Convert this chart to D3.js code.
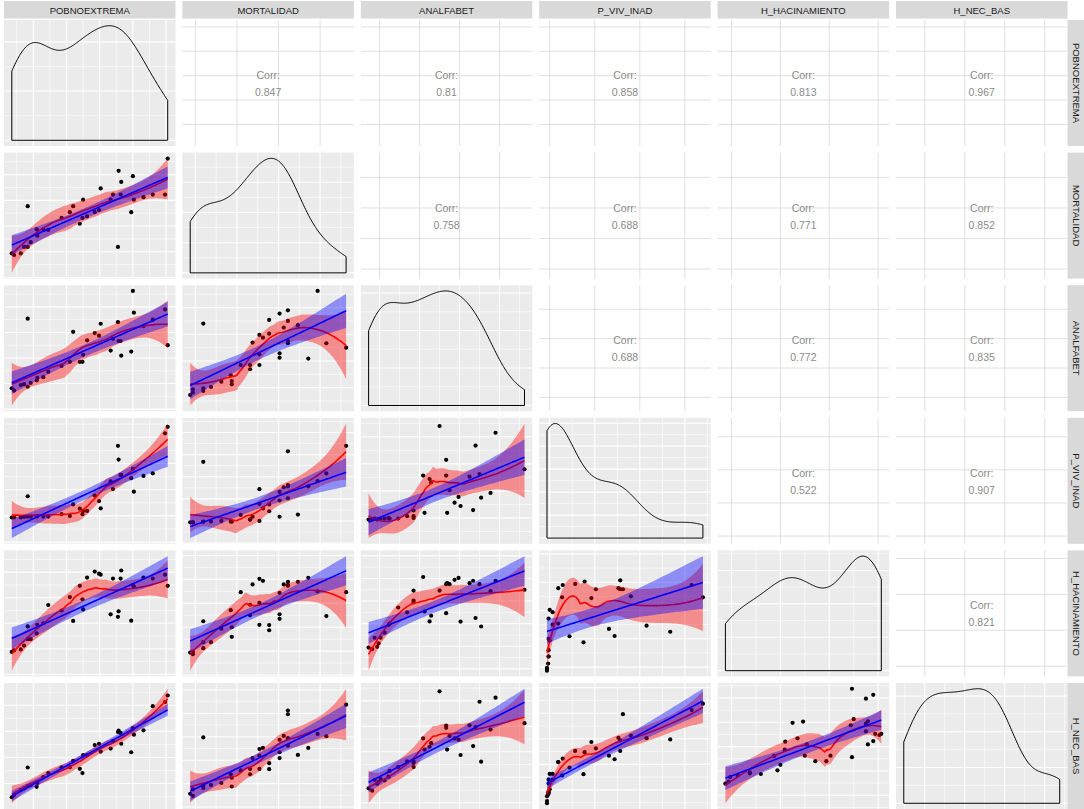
<!DOCTYPE html>
<html lang="en">
<head>
<meta charset="utf-8">
<title>Matriz de dispersión</title>
<script src="https://cdn.jsdelivr.net/npm/d3@7"></script>
<style>
  body { margin: 0; background: #ffffff; }
  svg { display: block; font-family: "Liberation Sans", Arial, sans-serif; }
</style>
</head>
<body>
<div id="chart"></div>
<script>
// variable names (strip labels), same order for rows and columns
var vars = ["POBNOEXTREMA", "MORTALIDAD", "ANALFABET", "P_VIV_INAD", "H_HACINAMIENTO", "H_NEC_BAS"];

var pobnoextrema = [7.0, 8.4, 12.4, 14.4, 16.6, 16.6, 18.4, 22.0, 22.4, 26.0, 29.0, 37.0, 42.0, 44.0, 48.0, 49.6, 50.0,
                    52.4, 57.0, 59.6, 60.6, 66.6, 68.0, 71.0, 71.4, 72.6, 73.0, 79.0, 80.0, 80.6, 86.4, 92.0, 99.4, 101.0];
var mortalidad   = [18.8, 17.5, 18.8, 23.8, 55.5, 23.8, 27.5, 37.5, 32.5, 37.5, 37.0, 46.3, 50.8, 55.5, 41.8, 46.3, 60.5,
                    47.5, 50.8, 52.5, 69.3, 60.5, 64.5, 23.8, 83.0, 64.5, 74.3, 50.8, 78.8, 60.5, 62.5, 64.5, 64.5, 92.5];
var analfabet    = [16.3, 14.5, 18.8, 19.5, 70.8, 17.5, 20.5, 22.5, 24.5, 25.0, 29.3, 33.8, 37.0, 60.5, 37.0, 37.0, 42.5,
                    53.8, 59.5, 57.5, 66.8, 45.8, 55.0, 68.0, 53.3, 53.3, 41.8, 45.0, 92.5, 75.5, 65.0, 70.0, 78.0, 50.0];
var pVivInad     = [18.8, 18.8, 18.8, 19.3, 35.0, 19.5, 19.5, 19.5, 20.0, 19.5, 19.5, 21.3, 20.0, 28.8, 25.5, 21.3, 23.8,
                    23.8, 35.5, 31.3, 25.8, 46.3, 40.5, 73.5, 63.0, 51.3, 51.3, 48.8, 56.0, 38.5, 50.5, 52.5, 83.0, 88.0];
var hHacinamiento = [17.5, 18.8, 19.5, 22.5, 37.5, 27.5, 27.5, 32.0, 38.8, 40.0, 54.3, 50.0, 60.5, 41.8, 69.3, 58.8, 50.8,
                    75.8, 80.5, 78.8, 78.0, 47.0, 75.0, 45.0, 49.3, 75.0, 81.3, 42.0, 70.0, 68.8, 75.8, 75.0, 78.0, 69.3];
var hNecBas      = [9.5, 11.3, 15.0, 16.3, 32.3, 18.0, 18.8, 17.5, 20.5, 25.0, 28.0, 32.5, 32.5, 37.5, 31.3, 28.0, 41.8,
                    41.8, 49.5, 50.5, 44.5, 46.8, 52.5, 59.5, 60.5, 58.8, 50.5, 44.0, 62.5, 57.5, 60.8, 79.3, 82.5, 87.5];

// correlation labels shown in the upper triangle, keyed "row,col"
var corrLabels = {
  "0,1": "0.847", "0,2": "0.81",  "0,3": "0.858", "0,4": "0.813", "0,5": "0.967",
  "1,2": "0.758", "1,3": "0.688", "1,4": "0.771", "1,5": "0.852",
  "2,3": "0.688", "2,4": "0.772", "2,5": "0.835",
  "3,4": "0.522", "3,5": "0.907",
  "4,5": "0.821"
};

var columns = [pobnoextrema, mortalidad, analfabet, pVivInad, hHacinamiento, hNecBas];

var W = 1084, H = 809;
var x0 = 4, y0 = 20, pw = 171.5, ph = 126, stepX = 178.4, stepY = 132.6;

var svg = d3.select("#chart").append("svg")
  .attr("width", W).attr("height", H);
svg.append("rect").attr("width", W).attr("height", H).attr("fill", "#ffffff");
var defs = svg.append("defs");

// ---------- stats helpers ----------
function expand(ext) {
  var d = ext[1] - ext[0];
  return [ext[0] - d * 0.05, ext[1] + d * 0.05];
}

function inv3(m) {
  var a = m[0][0], b = m[0][1], c = m[0][2],
      d = m[1][0], e = m[1][1], f = m[1][2],
      g = m[2][0], h = m[2][1], k = m[2][2];
  var A = e * k - f * h, B = -(d * k - f * g), C = d * h - e * g;
  var det = a * A + b * B + c * C;
  return [[A / det, -(b * k - c * h) / det, (b * f - c * e) / det],
          [B / det, (a * k - c * g) / det, -(a * f - c * d) / det],
          [C / det, -(a * h - b * g) / det, (a * e - b * d) / det]];
}

// local quadratic fit at x, returns equivalent kernel weights
function loessWeights(xs, x, span) {
  var n = xs.length, q = Math.floor(n * span);
  var dist = xs.map(function(v) { return Math.abs(v - x); });
  var h = dist.slice().sort(function(a, b) { return a - b; })[q - 1] * 1.0001;
  var w = dist.map(function(v) { return v < h ? Math.pow(1 - Math.pow(v / h, 3), 3) : 0; });
  var S = [0, 0, 0, 0, 0];
  xs.forEach(function(v, i) {
    var u = v - x, p = 1;
    for (var k = 0; k < 5; k++) { S[k] += w[i] * p; p *= u; }
  });
  var r = inv3([[S[0], S[1], S[2]], [S[1], S[2], S[3]], [S[2], S[3], S[4]]])[0];
  return xs.map(function(v, i) { var u = v - x; return w[i] * (r[0] + r[1] * u + r[2] * u * u); });
}

function loessBand(xs, ys, grid) {
  var n = xs.length;
  var L = xs.map(function(x) { return loessWeights(xs, x, 0.75); });
  var rss = 0, delta = 0;
  for (var i = 0; i < n; i++) {
    var fit = d3.sum(L[i], function(l, j) { return l * ys[j]; });
    rss += Math.pow(ys[i] - fit, 2);
    for (var j = 0; j < n; j++) delta += Math.pow((i === j ? 1 : 0) - L[i][j], 2);
  }
  var s = Math.sqrt(rss / delta);
  return grid.map(function(x) {
    var l = loessWeights(xs, x, 0.75);
    var fit = d3.sum(l, function(v, j) { return v * ys[j]; });
    var se = s * Math.sqrt(d3.sum(l, function(v) { return v * v; }));
    return { x: x, y: fit, lo: fit - 2.05 * se, hi: fit + 2.05 * se };
  });
}

function lmBand(xs, ys, grid) {
  var n = xs.length, mx = d3.mean(xs), my = d3.mean(ys);
  var sxx = d3.sum(xs, function(v) { return (v - mx) * (v - mx); });
  var sxy = d3.sum(xs, function(v, i) { return (v - mx) * (ys[i] - my); });
  var b = sxy / sxx, a = my - b * mx;
  var rss = d3.sum(xs, function(v, i) { return Math.pow(ys[i] - a - b * v, 2); });
  var s = Math.sqrt(rss / (n - 2));
  return grid.map(function(x) {
    var se = s * Math.sqrt(1 / n + (x - mx) * (x - mx) / sxx);
    var fit = a + b * x;
    return { x: x, y: fit, lo: fit - 2.037 * se, hi: fit + 2.037 * se };
  });
}

function kde(xs) {
  var n = xs.length, sd = d3.deviation(xs);
  var sorted = xs.slice().sort(d3.ascending);
  var iqr = d3.quantile(sorted, 0.75) - d3.quantile(sorted, 0.25);
  var bw = 0.9 * Math.min(sd, iqr / 1.34) * Math.pow(n, -0.2);
  var ext = d3.extent(xs);
  return d3.range(0, 201).map(function(i) {
    var x = ext[0] + (ext[1] - ext[0]) * i / 200;
    var dsum = d3.sum(xs, function(v) { var z = (x - v) / bw; return Math.exp(-0.5 * z * z); });
    return { x: x, y: dsum / (n * bw * Math.sqrt(2 * Math.PI)) };
  });
}

var xDomains = columns.map(function(c) { return expand(d3.extent(c)); });

// ---------- panel drawing ----------
function drawGrid(g, xs, ys, upper) {
  var xt = xs.ticks(4), yt = ys.ticks(4);
  var inX = function(v) { return v >= xs.domain()[0] && v <= xs.domain()[1]; };
  var inY = function(v) { return v >= ys.domain()[0] && v <= ys.domain()[1]; };
  if (!upper) {
    var step = function(t) { return t.length > 1 ? t[1] - t[0] : 1; };
    var xm = [], ym = [];
    xt.concat([xt[xt.length - 1] + step(xt)]).forEach(function(t) { xm.push(t - step(xt) / 2); });
    yt.concat([yt[yt.length - 1] + step(yt)]).forEach(function(t) { ym.push(t - step(yt) / 2); });
    g.selectAll(".mvx").data(xm.filter(inX)).enter().append("line")
      .attr("x1", xs).attr("x2", xs).attr("y1", 0).attr("y2", ph)
      .attr("stroke", "#ffffff").attr("stroke-width", 0.6);
    g.selectAll(".mhy").data(ym.filter(inY)).enter().append("line")
      .attr("y1", ys).attr("y2", ys).attr("x1", 0).attr("x2", pw)
      .attr("stroke", "#ffffff").attr("stroke-width", 0.6);
  }
  var majorCol = upper ? "#dcdcdc" : "#ffffff";
  g.selectAll(".vx").data(xt.filter(inX)).enter().append("line")
    .attr("x1", xs).attr("x2", xs).attr("y1", 0).attr("y2", ph)
    .attr("stroke", majorCol).attr("stroke-width", upper ? 0.9 : 1.1);
  g.selectAll(".hy").data(yt.filter(inY)).enter().append("line")
    .attr("y1", ys).attr("y2", ys).attr("x1", 0).attr("x2", pw)
    .attr("stroke", majorCol).attr("stroke-width", upper ? 0.9 : 1.1);
}

var area = function(xs, ys) {
  return d3.area().x(function(d) { return xs(d.x); })
    .y0(function(d) { return ys(d.lo); }).y1(function(d) { return ys(d.hi); });
};
var line = function(xs, ys) {
  return d3.line().x(function(d) { return xs(d.x); }).y(function(d) { return ys(d.y); });
};

for (var r = 0; r < vars.length; r++) {
  for (var c = 0; c < vars.length; c++) {
    var g = svg.append("g")
      .attr("transform", "translate(" + (x0 + c * stepX) + "," + (y0 + r * stepY) + ")");
    var clipId = "clip-" + r + "-" + c;
    defs.append("clipPath").attr("id", clipId)
      .append("rect").attr("width", pw).attr("height", ph);
    var xs = d3.scaleLinear().domain(xDomains[c]).range([0, pw]);

    if (r === c) {
      // diagonal: density outline
      var dens = kde(columns[c]);
      var ys = d3.scaleLinear().domain(expand([0, d3.max(dens, function(d) { return d.y; })])).range([ph, 0]);
      g.append("rect").attr("width", pw).attr("height", ph).attr("fill", "#ebebeb");
      drawGrid(g, xs, ys, false);
      var pts = [{ x: dens[0].x, y: 0 }].concat(dens).concat([{ x: dens[dens.length - 1].x, y: 0 }]);
      g.append("path").datum(pts)
        .attr("d", line(xs, ys)(pts) + "Z")
        .attr("fill", "none").attr("stroke", "#000000").attr("stroke-width", 1);
    } else if (r < c) {
      // upper: correlation text
      var ysU = d3.scaleLinear().domain(xDomains[r]).range([ph, 0]);
      g.append("rect").attr("width", pw).attr("height", ph).attr("fill", "#ffffff");
      drawGrid(g, xs, ysU, true);
      var t = g.append("text").attr("text-anchor", "middle")
        .attr("font-size", 10.5).attr("fill", "#8a8a8a");
      t.append("tspan").attr("x", pw / 2).attr("y", ph / 2 - 4).text("Corr:");
      t.append("tspan").attr("x", pw / 2).attr("y", ph / 2 + 13).text(corrLabels[r + "," + c]);
    } else {
      // lower: points + loess (red) + lm (blue)
      var xv = columns[c], yv = columns[r];
      var ext = d3.extent(xv);
      var grid = d3.range(0, 81).map(function(i) { return ext[0] + (ext[1] - ext[0]) * i / 80; });
      var lo = loessBand(xv, yv, grid), lm = lmBand(xv, yv, grid);
      var allY = yv.concat(lo.map(function(d) { return d.lo; }), lo.map(function(d) { return d.hi; }),
                           lm.map(function(d) { return d.lo; }), lm.map(function(d) { return d.hi; }));
      var ysL = d3.scaleLinear().domain(expand(d3.extent(allY))).range([ph, 0]);
      g.append("rect").attr("width", pw).attr("height", ph).attr("fill", "#ebebeb");
      drawGrid(g, xs, ysL, false);
      var inner = g.append("g").attr("clip-path", "url(#" + clipId + ")");
      inner.selectAll("circle").data(xv).enter().append("circle")
        .attr("cx", function(d) { return xs(d); })
        .attr("cy", function(d, i) { return ysL(yv[i]); })
        .attr("r", 2.1).attr("fill", "#000000");
      inner.append("path").datum(lo).attr("d", area(xs, ysL))
        .attr("fill", "#ff0000").attr("fill-opacity", 0.4);
      inner.append("path").datum(lo).attr("d", line(xs, ysL))
        .attr("fill", "none").attr("stroke", "#ff0000").attr("stroke-width", 1.6);
      inner.append("path").datum(lm).attr("d", area(xs, ysL))
        .attr("fill", "#0000ff").attr("fill-opacity", 0.4);
      inner.append("path").datum(lm).attr("d", line(xs, ysL))
        .attr("fill", "none").attr("stroke", "#0000ff").attr("stroke-width", 1.6);
    }
  }
}

// strips: top (column names) and right (row names)
vars.forEach(function(v, i) {
  var sx = x0 + i * stepX;
  svg.append("rect").attr("x", sx).attr("y", 1).attr("width", pw).attr("height", 17.5).attr("fill", "#d9d9d9");
  svg.append("text").attr("x", sx + pw / 2).attr("y", 13.5).attr("text-anchor", "middle")
    .attr("font-size", 9.5).attr("fill", "#1a1a1a").text(v);

  var sy = y0 + i * stepY;
  svg.append("rect").attr("x", 1067.5).attr("y", sy).attr("width", 19).attr("height", ph).attr("fill", "#d9d9d9");
  svg.append("text").attr("transform", "translate(1073,"+ (sy + ph / 2) + ") rotate(90)")
    .attr("text-anchor", "middle").attr("font-size", 9.5).attr("fill", "#1a1a1a").text(v);
});
</script>
</body>
</html>
